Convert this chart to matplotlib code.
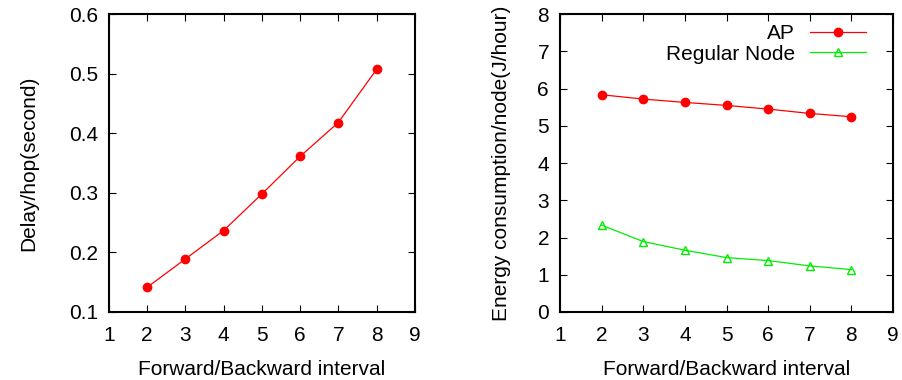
import matplotlib
matplotlib.use('Agg')
import matplotlib.pyplot as plt

plt.rcParams['font.family'] = ['Liberation Sans', 'DejaVu Sans']

# Data
interval = [2, 3, 4, 5, 6, 7, 8]
delay_per_hop = [0.1415, 0.189, 0.2367, 0.298, 0.361, 0.418, 0.507]
energy_ap = [5.833, 5.717, 5.627, 5.547, 5.448, 5.332, 5.242]
energy_regular = [2.33, 1.89, 1.658, 1.46, 1.38, 1.237, 1.138]

x_ticks = [1, 2, 3, 4, 5, 6, 7, 8, 9]

fig = plt.figure(figsize=(9.02, 3.8), dpi=100)
ax1 = fig.add_axes([0.1208, 0.179, 0.339, 0.784])
ax2 = fig.add_axes([0.621, 0.179, 0.369, 0.784])

fs = 15

# Left: delay per hop
ax1.plot(interval, delay_per_hop, color='red', lw=0.9, marker='o', ms=6)
ax1.set_xlim(1, 9)
ax1.set_ylim(0.1, 0.6)
ax1.set_xticks(x_ticks)
ax1.set_yticks([0.1, 0.2, 0.3, 0.4, 0.5, 0.6])
ax1.set_xlabel('Forward/Backward interval', fontsize=fs, labelpad=11)
ax1.set_ylabel('Delay/hop(second)', fontsize=fs, labelpad=22)

# Right: energy consumption
ax2.plot(interval, energy_ap, color='red', lw=0.9, marker='o', ms=6, label='AP')
ax2.plot(interval, energy_regular, color='#00ee00', lw=0.9, marker='^', ms=6,
         markerfacecolor='none', label='Regular Node')
ax2.set_xlim(1, 9)
ax2.set_ylim(0, 8)
ax2.set_xticks(x_ticks)
ax2.set_yticks(range(0, 9))
ax2.set_xlabel('Forward/Backward interval', fontsize=fs, labelpad=11)
ax2.set_ylabel('Energy consumption/node(J/hour)', fontsize=fs, labelpad=19)
ax2.legend(loc='upper right', bbox_to_anchor=(0.95, 1.0), frameon=False,
           markerfirst=False, fontsize=fs, handlelength=2.7, handletextpad=0.7,
           borderaxespad=0.1, labelspacing=0.05)

for ax in (ax1, ax2):
    ax.tick_params(direction='in', top=True, right=True, labelsize=fs, length=5)
    ax.tick_params(axis='x', pad=10)
    ax.tick_params(axis='y', pad=8)
    for s in ax.spines.values():
        s.set_linewidth(1.5)

plt.savefig('out.png', dpi=100)
